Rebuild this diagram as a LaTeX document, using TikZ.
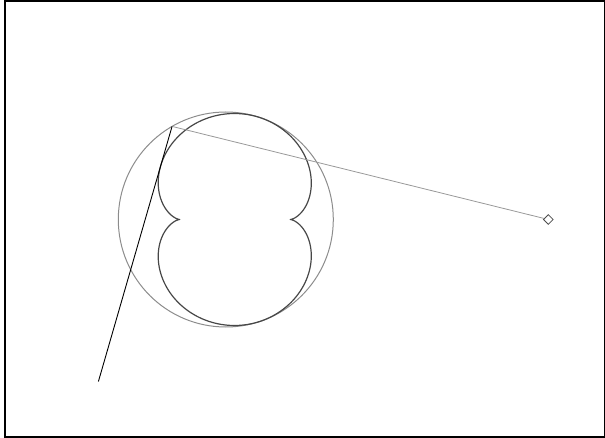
\documentclass[tikz,border=0pt]{standalone}
\usetikzlibrary{shapes.geometric}
\begin{document}
\begin{tikzpicture}[x=1pt,y=-1pt,
  declare function={
    rh(\t)=sqrt(10-6*cos(\t));
    cc(\t)=(1-3*cos(\t))/rh(\t);
    rp(\t)=(1-3*cos(\t))/(2*rh(\t)-cc(\t));
    vx(\t)=(cos(\t)-3)/rh(\t)-2*cc(\t)*cos(\t);
    vy(\t)=sin(\t)/rh(\t)-2*cc(\t)*sin(\t);
  },
  framebox/.style={draw=black,line width=2pt},
  mirror/.style={draw=black!45,line width=1pt},
  caustic/.style={draw=black!72,line width=1.2pt,line join=round},
  incident/.style={draw=black!40,line width=0.8pt},
  reflected/.style={draw=black,line width=0.9pt},
  source/.style={diamond,draw=black!70,fill=white,line width=0.8pt,minimum size=10pt,inner sep=0pt}]
\useasboundingbox (0,0) rectangle (605,438);
\draw[framebox] (4.5,1.5) rectangle (604.5,436.5);
\begin{scope}[shift={(225.8,219.5)},x=107.5pt,y=107.5pt]
  \draw[mirror] (0,0) circle (1);
  \draw[caustic] plot[variable=\x,domain=0:360,samples=361,smooth]
    ({cos(\x)+rp(\x)*vx(\x)},{sin(\x)+rp(\x)*vy(\x)}) -- cycle;
  \node[source] (S) at (3,0) {};
  \coordinate (P) at (-0.5,0.866025);
  \coordinate (E) at (-1.1851,-1.5071);
  \draw[incident] (S) -- (P);
  \draw[reflected] (P) -- (E);
\end{scope}
\end{tikzpicture}
\end{document}
